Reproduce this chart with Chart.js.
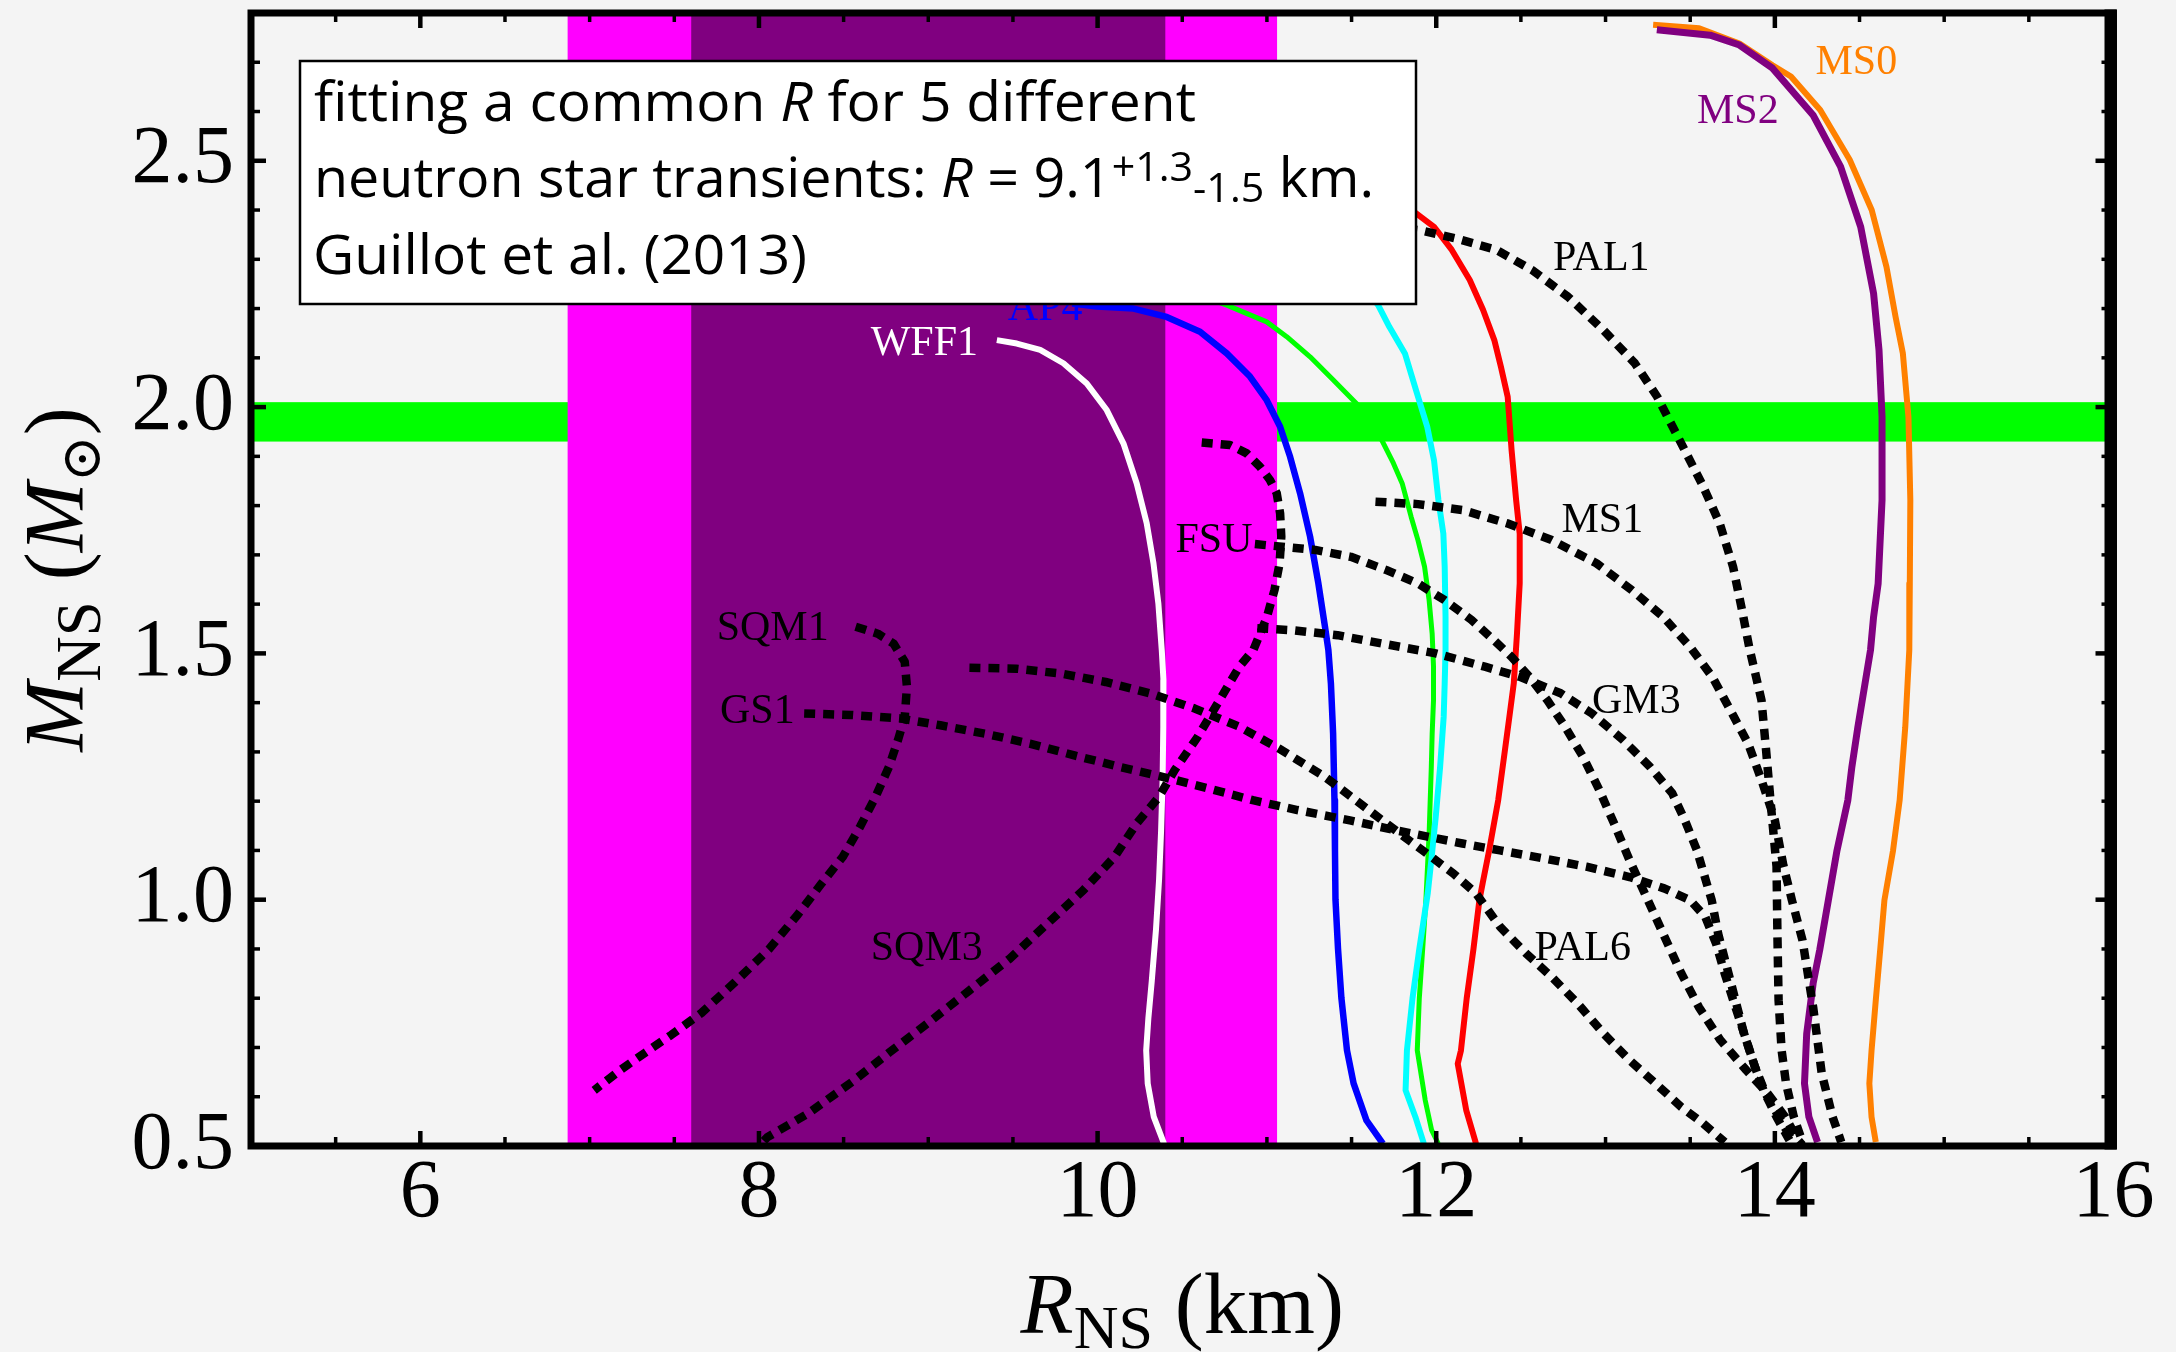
<!DOCTYPE html>
<html>
<head>
<meta charset="utf-8">
<script src="https://cdn.jsdelivr.net/npm/chart.js@4.4.1/dist/chart.umd.min.js"></script>
<style>
  html, body { margin: 0; padding: 0; background: #f4f4f4; }
  #wrap { width: 2176px; height: 1352px; }
  canvas { display: block; }
</style>
</head>
<body>
<div id="wrap"><canvas id="mr" width="2176" height="1352"></canvas></div>
<script>
// ---------------- axes ----------------
const xRange = [5, 16];
const yRange = [0.5, 2.8];
const xTickValues = [6, 8, 10, 12, 14, 16];
const yTickValues = [0.5, 1.0, 1.5, 2.0, 2.5];
const xMinorStep = 0.5;
const yMinorStep = 0.1;

// ---------------- shaded constraints ----------------
const massBand = [1.93, 2.01];            // measured-mass band (M_sun)
const radiusWideBand = [6.87, 11.06];     // wide radius interval (km)
const radiusFit = 9.1;                    // common radius fit (km)
const radiusFitPlus = 1.3;
const radiusFitMinus = 1.5;

// ---------------- mass-radius curves (R in km, M in M_sun) ----------------
const wff1R = [9.405, 9.523, 9.661, 9.798, 9.936, 10.054, 10.153, 10.231, 10.290, 10.330, 10.359, 10.379, 10.389, 10.388, 10.384, 10.375, 10.363, 10.345, 10.320, 10.300, 10.287, 10.296, 10.332, 10.392, 10.41];
const wff1M = [2.136, 2.129, 2.116, 2.089, 2.048, 1.994, 1.926, 1.845, 1.764, 1.683, 1.601, 1.507, 1.446, 1.350, 1.243, 1.140, 1.040, 0.940, 0.835, 0.760, 0.694, 0.627, 0.559, 0.505, 0.49];

const ap4R = [9.85, 9.995, 10.212, 10.408, 10.605, 10.763, 10.900, 10.999, 11.078, 11.137, 11.196, 11.255, 11.304, 11.343, 11.363, 11.378, 11.391, 11.399, 11.402, 11.405, 11.42, 11.44, 11.473, 11.512, 11.588, 11.685];
const ap4M = [2.21, 2.204, 2.200, 2.183, 2.153, 2.109, 2.062, 2.014, 1.960, 1.899, 1.825, 1.737, 1.642, 1.554, 1.507, 1.439, 1.337, 1.202, 1.10, 1.00, 0.90, 0.80, 0.694, 0.627, 0.552, 0.505];

const greenR = [10.2, 10.5, 10.763, 10.999, 11.117, 11.255, 11.392, 11.530, 11.668, 11.747, 11.799, 11.852, 11.892, 11.931, 11.958, 11.976, 11.984, 11.984, 11.976, 11.971, 11.958, 11.939, 11.92, 11.90, 11.888, 11.935, 11.973, 12.012];
const greenM = [2.26, 2.24, 2.207, 2.173, 2.143, 2.102, 2.055, 2.007, 1.940, 1.886, 1.845, 1.777, 1.730, 1.676, 1.608, 1.540, 1.473, 1.405, 1.337, 1.270, 1.134, 0.999, 0.90, 0.80, 0.694, 0.593, 0.532, 0.505];

const cyanR = [11.3, 11.5, 11.657, 11.723, 11.815, 11.881, 11.947, 11.987, 12.013, 12.042, 12.050, 12.055, 12.055, 12.050, 12.044, 12.023, 11.997, 11.971, 11.950, 11.90, 11.86, 11.827, 11.819, 11.877, 11.927];
const cyanM = [2.33, 2.28, 2.207, 2.163, 2.109, 2.034, 1.960, 1.892, 1.811, 1.743, 1.676, 1.574, 1.507, 1.439, 1.371, 1.270, 1.168, 1.080, 1.013, 0.90, 0.80, 0.694, 0.613, 0.559, 0.505];

const redR = [11.3, 11.6, 11.80, 11.868, 11.987, 12.092, 12.198, 12.277, 12.343, 12.382, 12.422, 12.445, 12.472, 12.493, 12.493, 12.477, 12.458, 12.432, 12.406, 12.366, 12.313, 12.274, 12.255, 12.22, 12.18, 12.146, 12.127, 12.177, 12.235];
const redM = [2.47, 2.46, 2.43, 2.397, 2.366, 2.319, 2.258, 2.197, 2.136, 2.082, 2.021, 1.913, 1.811, 1.743, 1.642, 1.540, 1.439, 1.371, 1.304, 1.202, 1.101, 1.033, 0.999, 0.90, 0.80, 0.694, 0.667, 0.573, 0.505];

const ms2R = [13.303, 13.618, 13.791, 13.986, 14.225, 14.388, 14.507, 14.583, 14.615, 14.633, 14.633, 14.610, 14.583, 14.565, 14.49, 14.455, 14.431, 14.367, 14.316, 14.265, 14.226, 14.188, 14.175, 14.201, 14.252];
const ms2M = [2.766, 2.755, 2.735, 2.688, 2.593, 2.488, 2.366, 2.231, 2.116, 1.980, 1.811, 1.642, 1.574, 1.507, 1.35, 1.27, 1.202, 1.100, 0.999, 0.898, 0.830, 0.728, 0.627, 0.559, 0.508];

const ms0R = [13.281, 13.553, 13.791, 13.986, 14.095, 14.268, 14.442, 14.572, 14.659, 14.713, 14.756, 14.789, 14.800, 14.797, 14.794, 14.77, 14.737, 14.698, 14.647, 14.622, 14.596, 14.571, 14.558, 14.571, 14.596];
const ms0M = [2.776, 2.769, 2.738, 2.694, 2.671, 2.603, 2.502, 2.400, 2.285, 2.183, 2.109, 1.980, 1.811, 1.642, 1.507, 1.35, 1.202, 1.100, 0.999, 0.898, 0.796, 0.694, 0.627, 0.559, 0.508];

const pal1R = [11.6, 11.908, 12.119, 12.356, 12.567, 12.778, 12.988, 13.173, 13.305, 13.437, 13.568, 13.674, 13.753, 13.806, 13.850, 13.921, 13.948, 13.974, 14.010, 14.015, 14.022, 14.040, 14.066, 14.112, 14.163];
const pal1M = [2.37, 2.359, 2.342, 2.319, 2.278, 2.224, 2.156, 2.089, 2.021, 1.933, 1.845, 1.764, 1.676, 1.588, 1.510, 1.405, 1.304, 1.202, 1.067, 0.931, 0.796, 0.694, 0.627, 0.559, 0.508];

const ms1R = [11.641, 11.892, 12.155, 12.419, 12.682, 12.946, 13.157, 13.341, 13.500, 13.631, 13.737, 13.842, 13.921, 14.000, 14.050, 14.100, 14.163, 14.226, 14.277, 14.341, 14.392];
const ms1M = [1.808, 1.803, 1.791, 1.764, 1.730, 1.683, 1.628, 1.574, 1.513, 1.452, 1.385, 1.317, 1.243, 1.161, 1.070, 1.000, 0.918, 0.782, 0.647, 0.559, 0.508];

const fsuR = [10.929, 11.285, 11.496, 11.707, 11.892, 12.050, 12.208, 12.340, 12.445, 12.551, 12.656, 12.761, 12.867, 12.960, 13.050, 13.142, 13.295, 13.448, 13.551, 13.678, 13.831, 13.959, 14.061, 14.137, 14.163];
const fsuM = [1.722, 1.710, 1.696, 1.669, 1.642, 1.608, 1.568, 1.527, 1.493, 1.452, 1.405, 1.351, 1.290, 1.225, 1.155, 1.080, 0.965, 0.850, 0.782, 0.715, 0.654, 0.606, 0.559, 0.512, 0.502];

const gm3R = [10.943, 11.154, 11.417, 11.681, 11.997, 12.287, 12.498, 12.735, 12.920, 13.104, 13.262, 13.394, 13.470, 13.540, 13.600, 13.627, 13.665, 13.716, 13.767, 13.818, 13.882, 13.946, 14.035, 14.112];
const gm3M = [1.551, 1.547, 1.537, 1.520, 1.500, 1.473, 1.452, 1.419, 1.378, 1.324, 1.270, 1.216, 1.160, 1.100, 1.030, 0.999, 0.931, 0.864, 0.796, 0.728, 0.661, 0.606, 0.552, 0.505];

const gs1R = [8.267, 8.544, 8.834, 9.071, 9.335, 9.599, 9.862, 10.126, 10.389, 10.653, 10.917, 11.180, 11.490, 11.760, 12.155, 12.377, 12.632, 12.887, 13.142, 13.346, 13.500, 13.589, 13.653, 13.704, 13.767, 13.831, 13.882, 13.933, 14.010, 14.086];
const gs1M = [1.378, 1.375, 1.368, 1.354, 1.337, 1.317, 1.293, 1.270, 1.249, 1.226, 1.202, 1.182, 1.161, 1.141, 1.114, 1.100, 1.084, 1.067, 1.046, 1.023, 0.999, 0.965, 0.911, 0.850, 0.782, 0.715, 0.661, 0.613, 0.559, 0.512];

const pal6R = [9.243, 9.520, 9.783, 10.047, 10.310, 10.574, 10.838, 11.070, 11.340, 11.628, 11.786, 11.944, 12.102, 12.234, 12.377, 12.530, 12.683, 12.836, 12.989, 13.142, 13.295, 13.448, 13.576, 13.704];
const pal6M = [1.471, 1.469, 1.459, 1.442, 1.419, 1.388, 1.351, 1.307, 1.250, 1.175, 1.134, 1.094, 1.053, 1.013, 0.945, 0.891, 0.843, 0.789, 0.728, 0.674, 0.627, 0.579, 0.546, 0.508];

const sqm3R = [10.615, 10.782, 10.881, 10.959, 11.018, 11.058, 11.078, 11.085, 11.075, 11.045, 11.000, 10.960, 10.920, 10.837, 10.720, 10.590, 10.455, 10.363, 10.231, 10.100, 9.915, 9.705, 9.480, 9.240, 9.000, 8.770, 8.550, 8.290, 8.050, 8.000];
const sqm3M = [1.928, 1.923, 1.906, 1.879, 1.852, 1.825, 1.784, 1.737, 1.683, 1.629, 1.574, 1.540, 1.507, 1.473, 1.405, 1.330, 1.263, 1.209, 1.155, 1.087, 1.019, 0.952, 0.880, 0.815, 0.750, 0.690, 0.630, 0.566, 0.518, 0.500];

const sqm1R = [8.571, 8.702, 8.795, 8.861, 8.874, 8.861, 8.821, 8.768, 8.689, 8.597, 8.495, 8.370, 8.230, 8.060, 7.860, 7.660, 7.480, 7.330, 7.180, 7.027];
const sqm1M = [1.554, 1.540, 1.520, 1.483, 1.432, 1.371, 1.324, 1.270, 1.209, 1.148, 1.087, 1.033, 0.970, 0.900, 0.833, 0.770, 0.725, 0.690, 0.654, 0.613];

// ---------------- curve labels ----------------
const labelText = ['WFF1', 'AP4', 'FSU', 'SQM1', 'GS1', 'SQM3', 'PAL1', 'MS1', 'GM3', 'PAL6', 'MS2', 'MS0'];
const labelR    = [8.66, 9.47, 10.46, 7.75, 7.77, 8.66, 12.69, 12.74, 12.92, 12.58, 13.54, 14.24];
const labelM    = [2.106, 2.177, 1.706, 1.527, 1.358, 0.877, 2.278, 1.747, 1.378, 0.877, 2.577, 2.677];
const labelColor = ['#ffffff', '#0000ff', '#000', '#000', '#000', '#000', '#000', '#000', '#000', '#000', '#800080', '#ff8000'];

// ---------------- styles (listed bottom to top) ----------------
const DASH = [11, 8];
const curveStyles = [
  { R: ms0R,  M: ms0M,  color: '#ff8000', width: 6 },
  { R: ms2R,  M: ms2M,  color: '#800080', width: 7 },
  { R: redR,  M: redM,  color: '#ff0000', width: 6 },
  { R: greenR, M: greenM, color: '#00ff00', width: 5 },
  { R: cyanR, M: cyanM, color: '#00ffff', width: 6 },
  { R: ap4R,  M: ap4M,  color: '#0000ff', width: 6.5 },
  { R: wff1R, M: wff1M, color: '#ffffff', width: 6 },
  { R: pal1R, M: pal1M, color: '#000', width: 8.5, dash: DASH },
  { R: ms1R,  M: ms1M,  color: '#000', width: 8.5, dash: DASH },
  { R: fsuR,  M: fsuM,  color: '#000', width: 8.5, dash: DASH },
  { R: gm3R,  M: gm3M,  color: '#000', width: 8.5, dash: DASH },
  { R: gs1R,  M: gs1M,  color: '#000', width: 8.5, dash: DASH },
  { R: pal6R, M: pal6M, color: '#000', width: 8.5, dash: DASH },
  { R: sqm3R, M: sqm3M, color: '#000', width: 8.5, dash: DASH },
  { R: sqm1R, M: sqm1M, color: '#000', width: 8.5, dash: DASH },
];

const datasets = curveStyles.map((s, i) => ({
  data: s.R.map((r, k) => ({ x: r, y: s.M[k] })),
  showLine: true,
  borderColor: s.color,
  backgroundColor: s.color,
  borderWidth: s.width,
  borderDash: s.dash || [],
  borderCapStyle: 'butt',
  borderJoinStyle: 'round',
  pointRadius: 0,
  pointHoverRadius: 0,
  tension: 0,
  fill: false,
  order: curveStyles.length - i
}));

const SERIF = "'Liberation Serif', 'DejaVu Serif', serif";
const SANS = "'Open Sans', 'Noto Sans', sans-serif";

// page background
const backgroundPlugin = {
  id: 'pageBackground',
  beforeDraw(chart) {
    const c = chart.ctx;
    c.save();
    c.fillStyle = '#f4f4f4';
    c.fillRect(0, 0, chart.width, chart.height);
    c.restore();
  }
};

// mass band and radius bands behind the curves
const bandPlugin = {
  id: 'bands',
  beforeDatasetsDraw(chart) {
    const c = chart.ctx, a = chart.chartArea;
    const xs = chart.scales.x, ys = chart.scales.y;
    c.save();
    c.beginPath(); c.rect(a.left, a.top, a.right - a.left, a.bottom - a.top); c.clip();
    const yTop = ys.getPixelForValue(massBand[1]), yBot = ys.getPixelForValue(massBand[0]);
    c.fillStyle = '#00ff00';
    c.fillRect(a.left, yTop, a.right - a.left, yBot - yTop);
    const w0 = xs.getPixelForValue(radiusWideBand[0]), w1 = xs.getPixelForValue(radiusWideBand[1]);
    c.fillStyle = '#ff00ff';
    c.fillRect(w0, a.top, w1 - w0, a.bottom - a.top);
    const f0 = xs.getPixelForValue(radiusFit - radiusFitMinus), f1 = xs.getPixelForValue(radiusFit + radiusFitPlus);
    c.fillStyle = '#800080';
    c.fillRect(f0, a.top, f1 - f0, a.bottom - a.top);
    c.restore();
  }
};

function drawRuns(c, runs, x, y, targetW) {
  let w = 0;
  for (const r of runs) { c.font = r.font; w += c.measureText(r.text).width; }
  const s = targetW ? targetW / w : 1;
  c.save();
  c.translate(x, y);
  c.scale(s, 1);
  let cx = 0;
  for (const r of runs) {
    c.font = r.font;
    c.fillText(r.text, cx, r.dy || 0);
    cx += c.measureText(r.text).width;
  }
  c.restore();
  return w * s;
}

// curve names and the annotation box
const annotationPlugin = {
  id: 'annotations',
  afterDatasetsDraw(chart) {
    const c = chart.ctx, a = chart.chartArea;
    const xs = chart.scales.x, ys = chart.scales.y;
    c.save();
    c.beginPath(); c.rect(a.left, a.top, a.right - a.left, a.bottom - a.top); c.clip();
    c.font = '42px ' + SERIF;
    c.textAlign = 'left';
    c.textBaseline = 'alphabetic';
    labelText.forEach((t, i) => {
      c.fillStyle = labelColor[i];
      c.fillText(t, xs.getPixelForValue(labelR[i]), ys.getPixelForValue(labelM[i]));
    });
    c.restore();

    // annotation box
    c.save();
    const bx = 300, by = 61, bw = 1116, bh = 243;
    c.fillStyle = '#ffffff';
    c.fillRect(bx, by, bw, bh);
    c.strokeStyle = '#000';
    c.lineWidth = 2.5;
    c.strokeRect(bx, by, bw, bh);
    c.fillStyle = '#000';
    c.textBaseline = 'alphabetic';
    c.textAlign = 'left';
    const fN = '54px ' + SANS, fI = 'italic 54px ' + SANS, fS = '40px ' + SANS;
    drawRuns(c, [
      { text: 'fitting a common ', font: fN },
      { text: 'R', font: fI },
      { text: ' for 5 different', font: fN }
    ], 314, 121, 882);
    drawRuns(c, [
      { text: 'neutron star transients: ', font: fN },
      { text: 'R', font: fI },
      { text: ' = 9.1', font: fN },
      { text: '+1.3', font: fS, dy: -16 },
      { text: '-1.5', font: fS, dy: 5 },
      { text: ' km.', font: fN }
    ], 314, 197, 1060);
    drawRuns(c, [
      { text: 'Guillot et al. (2013)', font: fN }
    ], 313, 274, 494);
    c.restore();
  },
  afterDraw(chart) {
    const c = chart.ctx, a = chart.chartArea;
    const xs = chart.scales.x, ys = chart.scales.y;
    c.save();
    c.strokeStyle = '#000';
    c.lineCap = 'butt';
    const tick = (x1, y1, x2, y2, w) => { c.lineWidth = w; c.beginPath(); c.moveTo(x1, y1); c.lineTo(x2, y2); c.stroke(); };
    // x ticks on bottom and top
    for (let v = xRange[0] + xMinorStep; v < xRange[1] - 1e-9; v += xMinorStep) {
      const major = xTickValues.some(t => Math.abs(t - v) < 1e-6);
      const len = major ? 15 : 9, w = major ? 4.5 : 3.5;
      const px = xs.getPixelForValue(v);
      tick(px, a.bottom, px, a.bottom - len, w);
      tick(px, a.top, px, a.top + len, w);
    }
    // y ticks on left and right
    for (let v = yRange[0] + yMinorStep; v < yRange[1] - 1e-9; v += yMinorStep) {
      const major = yTickValues.some(t => Math.abs(t - v) < 1e-6);
      const len = major ? 15 : 9, w = major ? 4.5 : 3.5;
      const py = ys.getPixelForValue(v);
      tick(a.left, py, a.left + len, py, w);
      tick(a.right - 3, py, a.right - 3 - len, py, w);
    }
    // frame
    c.lineWidth = 7;
    c.strokeRect(a.left, a.top, a.right - a.left, a.bottom - a.top);
    c.lineWidth = 12;
    c.beginPath(); c.moveTo(a.right - 3, a.top - 3.5); c.lineTo(a.right - 3, a.bottom + 3.5); c.stroke();

    // axis titles
    c.fillStyle = '#000';
    c.textAlign = 'left';
    c.textBaseline = 'alphabetic';
    const xRuns = [
      { text: 'R', font: 'italic 87px ' + SERIF },
      { text: 'NS', font: '62px ' + SERIF, dy: 15 },
      { text: ' (km)', font: '87px ' + SERIF }
    ];
    let tw = 0;
    for (const r of xRuns) { c.font = r.font; tw += c.measureText(r.text).width; }
    drawRuns(c, xRuns, (a.left + a.right) / 2 - tw / 2, 1333);

    const yRuns = [
      { text: 'M', font: 'italic 84px ' + SERIF },
      { text: 'NS', font: '63px ' + SERIF, dy: 17 },
      { text: ' (', font: '84px ' + SERIF },
      { text: 'M', font: 'italic 84px ' + SERIF },
      { text: '\u2299', font: '56px ' + SERIF, dy: 17 },
      { text: ')', font: '84px ' + SERIF }
    ];
    let th = 0;
    for (const r of yRuns) { c.font = r.font; th += c.measureText(r.text).width; }
    c.save();
    c.translate(83, (a.top + a.bottom) / 2 + th / 2);
    c.rotate(-Math.PI / 2);
    drawRuns(c, yRuns, 0, 0);
    c.restore();
    c.restore();
  }
};

new Chart(document.getElementById('mr'), {
  type: 'scatter',
  data: { datasets },
  options: {
    responsive: false,
    animation: false,
    events: [],
    devicePixelRatio: 1,
    layout: { padding: { top: 13, right: 62.5, left: 0, bottom: 0 } },
    plugins: { legend: { display: false }, tooltip: { enabled: false } },
    scales: {
      x: {
        type: 'linear',
        min: xRange[0], max: xRange[1],
        grid: { display: false, drawTicks: false },
        border: { display: false },
        afterFit(s) { s.height = 206; s.paddingLeft = 0; s.paddingRight = 0; },
        afterBuildTicks(s) { s.ticks = xTickValues.map(v => ({ value: v })); },
        ticks: {
          color: '#000',
          padding: 7,
          maxRotation: 0,
          autoSkip: false,
          font: { family: SERIF, size: 82, lineHeight: 1 },
          callback: v => String(v)
        }
      },
      y: {
        type: 'linear',
        min: yRange[0], max: yRange[1],
        grid: { display: false, drawTicks: false },
        border: { display: false },
        afterFit(s) { s.width = 251; s.paddingTop = 0; s.paddingBottom = 0; },
        afterBuildTicks(s) { s.ticks = yTickValues.map(v => ({ value: v })); },
        ticks: {
          color: '#000',
          padding: 17,
          autoSkip: false,
          font: { family: SERIF, size: 82, lineHeight: 1 },
          callback: v => Number(v).toFixed(1)
        }
      }
    }
  },
  plugins: [backgroundPlugin, bandPlugin, annotationPlugin]
});
</script>
</body>
</html>
